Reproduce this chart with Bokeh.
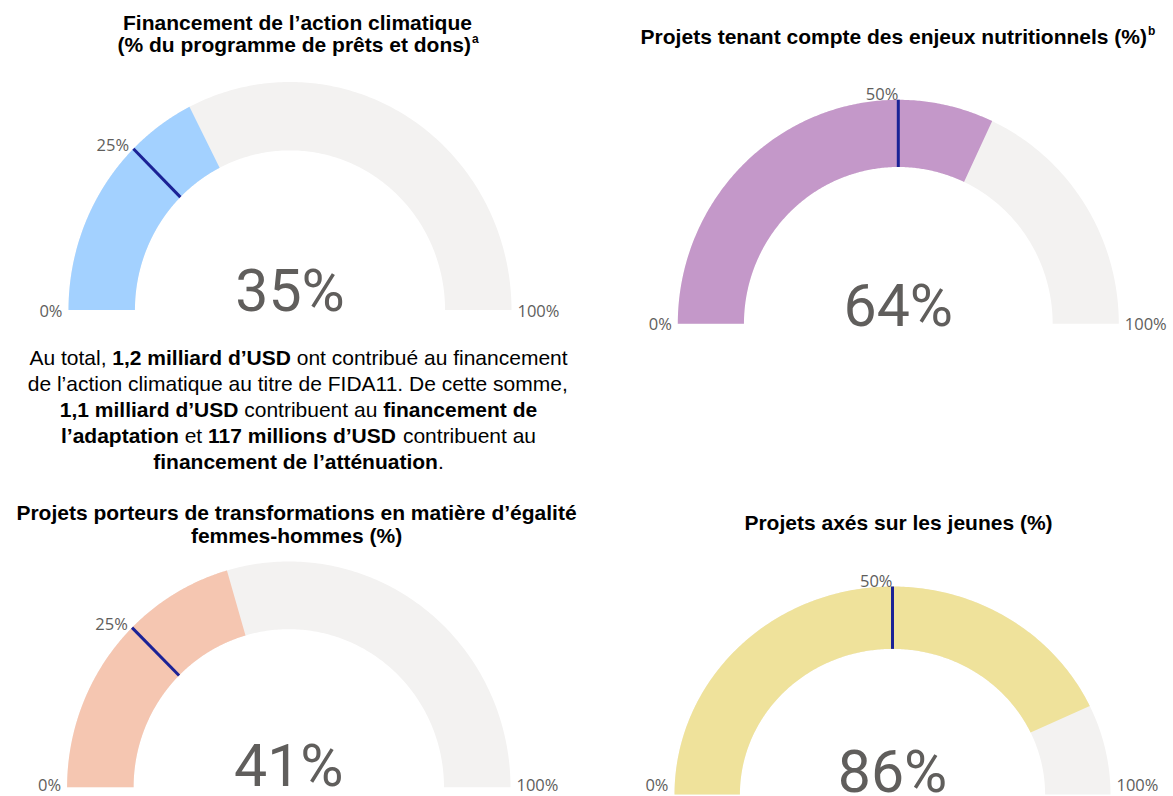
import numpy as np
from bokeh.plotting import figure
from bokeh.models import Range1d, ColumnDataSource
from bokeh.core.properties import value
from bokeh.embed import file_html
from bokeh.resources import INLINE

# ---------------- data ----------------
gauge_values = [35, 64, 41, 86]
gauge_targets = [25, 50, 25, 50]
gauge_min_label = "0%"
gauge_max_label = "100%"
gauge_colors = ["#A3D1FF", "#C498C9", "#F5C6B1", "#EFE29B"]
track_color = "#F3F2F1"
target_color = "#1B2296"
label_color = "#605E5C"

title_lines = [
    [("Financement de l\u2019action climatique", ""), ("(% du programme de pr\u00eats et dons)", "a")],
    [("Projets tenant compte des enjeux nutritionnels (%)", "b")],
    [("Projets porteurs de transformations en mati\u00e8re d\u2019\u00e9galit\u00e9", ""), ("femmes-hommes (%)", "")],
    [("Projets ax\u00e9s sur les jeunes (%)", "")],
]

paragraph = [
    [("Au total, ", 0), ("1,2 milliard d\u2019USD", 1), (" ont contribu\u00e9 au financement", 0)],
    [("de l\u2019action climatique au titre de FIDA11. De cette somme,", 0)],
    [("1,1 milliard d\u2019USD", 1), (" contribuent au ", 0), ("financement de", 1)],
    [("l\u2019adaptation", 1), (" et ", 0), ("117 millions d\u2019USD", 1), (" contribuent au", 0)],
    [("financement de l\u2019att\u00e9nuation", 1), (".", 0)],
]

# ---------------- layout (pixel space of the page) ----------------
W, H = 1173, 796
g_cx = [289.5, 897.8, 288.3, 892.0]
g_by = [309.5, 323.3, 786.7, 794.0]
g_rx = [221.5, 220.5, 221.7, 218.0]
g_ry = [228.0, 224.0, 225.7, 208.0]
end_label_base = [309.5, 323.3, 783.5, 783.5]
big_base = [290, 305, 765, 771]
inner_ratio = 0.70
title_cx = [297, 897, 296, 898]
title_y = [[22, 44], [36], [512, 535], [522]]
para_cx = 298
para_y = [357, 383, 409, 435, 461]
TF = 21  # title / paragraph font px

# Arial / Liberation Sans metrics (1/1000 em)
REG = dict(zip("abcdefghijklmnopqrstuvwxyz",
               [556,556,500,556,556,278,556,556,222,222,500,222,833,556,556,556,556,333,500,278,556,500,722,500,500,500]))
REG.update(dict(zip("ABCDEFGHIJKLMNOPQRSTUVWXYZ",
               [667,667,722,722,667,611,778,722,278,500,667,556,833,722,778,667,778,722,667,611,722,667,944,667,667,611])))
BOLD = dict(zip("abcdefghijklmnopqrstuvwxyz",
                [556,611,556,611,556,333,611,611,278,278,556,278,889,611,611,611,611,389,556,333,611,556,778,556,556,500]))
BOLD.update(dict(zip("ABCDEFGHIJKLMNOPQRSTUVWXYZ",
                [722,722,722,722,667,611,778,722,278,556,722,611,833,722,778,667,778,722,667,611,722,667,944,667,667,611])))
for d, q in ((REG, 222), (BOLD, 278)):
    for ch in "0123456789":
        d[ch] = 556
    d.update({" ": 278, ",": 278, ".": 278, "\u2019": q, "(": 333, ")": 333, "%": 889, "-": 333,
              "\u00e9": 556, "\u00e8": 556, "\u00ea": 556, "\u00e0": 556})


def tw(s, bold, size):
    d = BOLD if bold else REG
    return sum(d.get(c, 556) for c in s) * size / 1000.0


# ---------------- figure ----------------
p = figure(width=W, height=H, x_range=Range1d(0, W), y_range=Range1d(H, 0),
           output_backend="svg", toolbar_location=None, min_border=0,
           x_axis_type=None, y_axis_type=None)
p.grid.visible = False
p.outline_line_color = None
p.background_fill_color = "white"
p.border_fill_color = "white"


def arc_poly(cx, by, rx, ry, f0, f1, n=241):
    t = np.pi - np.linspace(f0, f1, n) * np.pi
    xo = cx + rx * np.cos(t)
    yo = by - ry * np.sin(t)
    xi = cx + inner_ratio * rx * np.cos(t[::-1])
    yi = by - inner_ratio * ry * np.sin(t[::-1])
    return list(np.concatenate([xo, xi])), list(np.concatenate([yo, yi]))


track_xs, track_ys, val_xs, val_ys = [], [], [], []
tx0, ty0, tx1, ty1 = [], [], [], []
tl_x, tl_y, tl_t = [], [], []
lo_x, lo_y, hi_x, hi_y = [], [], [], []
big_x, big_y, big_t = [], [], []
for i in range(4):
    cx, by, rx, ry = g_cx[i], g_by[i], g_rx[i], g_ry[i]
    xs, ys = arc_poly(cx, by, rx, ry, 0, 1)
    track_xs.append(xs); track_ys.append(ys)
    xs, ys = arc_poly(cx, by, rx, ry, 0, gauge_values[i] / 100)
    val_xs.append(xs); val_ys.append(ys)
    a = np.pi - gauge_targets[i] / 100 * np.pi
    tx0.append(cx + inner_ratio * rx * np.cos(a)); ty0.append(by - inner_ratio * ry * np.sin(a))
    tx1.append(cx + rx * np.cos(a)); ty1.append(by - ry * np.sin(a))
    tl_x.append(cx + (rx + 6) * np.cos(a)); tl_y.append(by - (ry + 6) * np.sin(a))
    tl_t.append(f"{gauge_targets[i]}%")
    lo_x.append(cx - rx - 6); lo_y.append(end_label_base[i])
    hi_x.append(min(cx + rx + 6, 1126)); hi_y.append(end_label_base[i])
    big_x.append(cx); big_y.append(big_base[i])
    big_t.append(f"{gauge_values[i]}%")

p.patches(track_xs, track_ys, fill_color=track_color, line_color=None)
p.patches("xs", "ys", source=ColumnDataSource(dict(xs=val_xs, ys=val_ys, c=gauge_colors)),
          fill_color="c", line_color=None)
p.segment(tx0, ty0, tx1, ty1, line_color=target_color, line_width=3)

lab_font = value("Open Sans")
p.text(tl_x, tl_y, text=tl_t, text_align="right", text_baseline="alphabetic",
       text_font=lab_font, text_font_size="16.5px", text_color=label_color)
p.text(lo_x, lo_y, text=[gauge_min_label] * 4, text_align="right", text_baseline="alphabetic",
       text_font=lab_font, text_font_size="16.5px", text_color=label_color)
p.text(hi_x, hi_y, text=[gauge_max_label] * 4, text_align="left", text_baseline="alphabetic",
       text_font=lab_font, text_font_size="16.5px", text_color=label_color)
p.text(big_x, big_y, text=big_t, text_align="center", text_baseline="alphabetic",
       text_font=value("Roboto"), text_font_size="59px", text_color=label_color)

# titles
tb_x, tb_y, tb_t = [], [], []
sup_x, sup_y, sup_t = [], [], []
for i, lines in enumerate(title_lines):
    for (txt, sup), y in zip(lines, title_y[i]):
        w = tw(txt, 1, TF)
        ws = tw(sup, 1, 12) if sup else 0
        x0 = title_cx[i] - (w + ws) / 2
        tb_x.append(x0); tb_y.append(y); tb_t.append(txt)
        if sup:
            sup_x.append(x0 + w + 1); sup_y.append(y - 6); sup_t.append(sup)

p.text(tb_x, tb_y, text=tb_t, text_align="left", text_baseline="middle",
       text_font=value("Liberation Sans"), text_font_style="bold", text_font_size=f"{TF}px", text_color="black")
p.text(sup_x, sup_y, text=sup_t, text_align="left", text_baseline="middle",
       text_font=value("Liberation Sans"), text_font_style="bold", text_font_size="12px", text_color="black")

# paragraph with mixed weights
pr = {0: dict(x=[], y=[], t=[]), 1: dict(x=[], y=[], t=[])}
for segs, y in zip(paragraph, para_y):
    total = sum(tw(s, b, TF) for s, b in segs)
    x = para_cx - total / 2
    for s, b in segs:
        lead = len(s) - len(s.lstrip(" "))
        core = s.strip(" ")
        pr[b]["x"].append(x + tw(" " * lead, b, TF))
        pr[b]["y"].append(y)
        pr[b]["t"].append(core)
        x += tw(s, b, TF)

p.text(pr[0]["x"], pr[0]["y"], text=pr[0]["t"], text_align="left", text_baseline="middle",
       text_font=value("Liberation Sans"), text_font_size=f"{TF}px", text_color="black")
p.text(pr[1]["x"], pr[1]["y"], text=pr[1]["t"], text_align="left", text_baseline="middle",
       text_font=value("Liberation Sans"), text_font_style="bold", text_font_size=f"{TF}px", text_color="black")

open("out.html", "w").write(file_html(p, INLINE))
